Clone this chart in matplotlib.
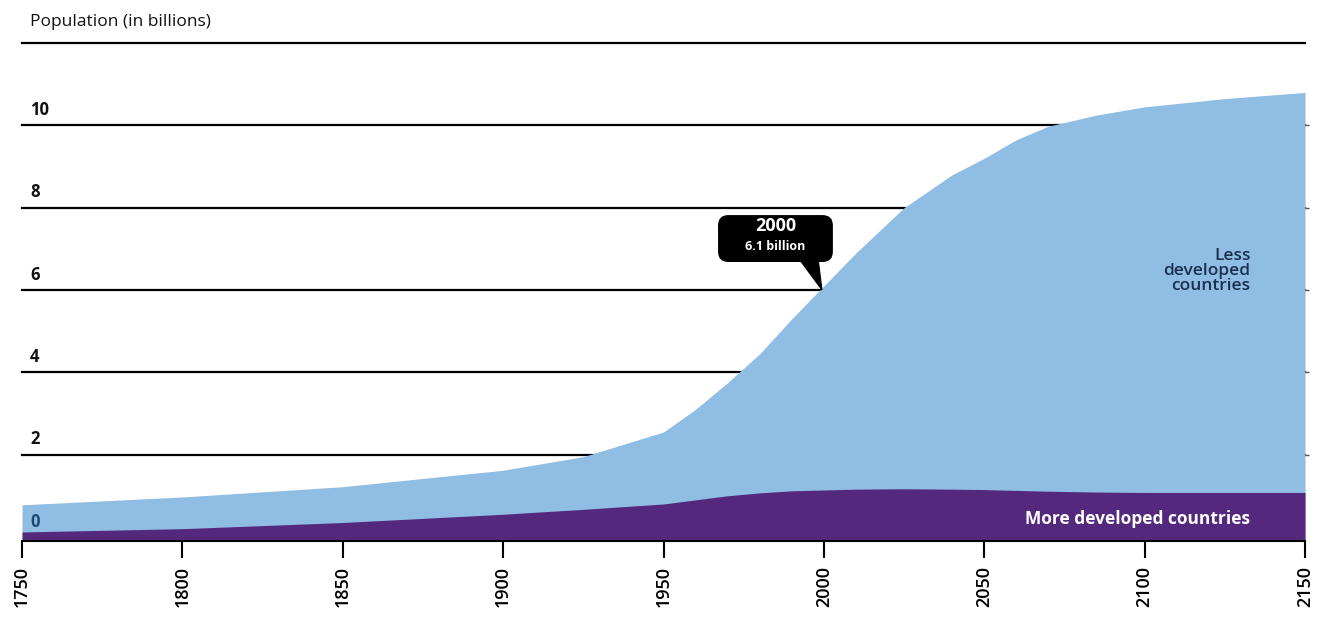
import matplotlib.pyplot as plt
from matplotlib.patches import FancyBboxPatch, Polygon

# Dane
years = [1750, 1800, 1850, 1900, 1925, 1950, 1960, 1970, 1980, 1990, 2000,
         2010, 2025, 2040, 2050, 2060, 2070, 2085, 2100, 2125, 2150]
total = [0.78, 0.97, 1.22, 1.62, 1.95, 2.55, 3.1, 3.75, 4.45, 5.3, 6.1,
         6.9, 8.0, 8.8, 9.2, 9.65, 9.98, 10.25, 10.45, 10.65, 10.8]
more_dev = [0.12, 0.2, 0.35, 0.55, 0.67, 0.8, 0.9, 1.0, 1.07, 1.12, 1.14,
            1.16, 1.17, 1.16, 1.15, 1.13, 1.11, 1.09, 1.08, 1.08, 1.08]
x_ticks = [1750, 1800, 1850, 1900, 1950, 2000, 2050, 2100, 2150]
y_grid = [2, 4, 6, 8, 10, 12]
y_labels = ["0", "2", "4", "6", "8", "10"]

LIGHT = "#8fbde3"
PURPLE = "#54287c"
FONT = ["Open Sans", "DejaVu Sans"]

fig = plt.figure(figsize=(13.19, 6.33), dpi=100)
ax = fig.add_axes([0.0167, 0.1453, 0.9727, 0.7867])
ax.set_xlim(1750, 2150)
ax.set_ylim(-0.1, 12)

# Linie siatki (pod obszarem)
for g in y_grid:
    ax.axhline(g, color="black", lw=1.6, zorder=1, clip_on=False)

ax.fill_between(years, -0.1, total, color=LIGHT, lw=0, zorder=2)
ax.fill_between(years, -0.1, more_dev, color=PURPLE, lw=0, zorder=3)

# Etykiety osi Y
for i, lab in enumerate(y_labels):
    val = i * 2
    col = "#1d4a78" if val == 0 else "#111111"
    ax.text(1752.5, val + 0.37, lab, fontsize=12, fontweight="bold",
            color=col, va="center", ha="left", family=FONT, zorder=5)

ax.text(1752.5, 12.5, "Population (in billions)", fontsize=12.5,
        color="#111111", va="center", ha="left", family=FONT)

# Dymek 2000
bx0, bx1, by0, by1 = 1967.0, 2002.8, 6.68, 7.82
box = FancyBboxPatch((bx0, by0), bx1 - bx0, by1 - by0,
                     boxstyle="round,pad=0,rounding_size=3.2",
                     mutation_aspect=0.078, fc="black", ec="black",
                     lw=0, zorder=6)
ax.add_patch(box)
ax.add_patch(Polygon([(1992.3, 6.75), (1998.2, 6.75), (1999.4, 6.0)],
                     closed=True, fc="black", ec="black", lw=0.8, zorder=6))
ax.text(1984.9, 7.55, "2000", fontsize=13, fontweight="bold", color="white",
        ha="center", va="center", family=FONT, zorder=7)
ax.text(1984.9, 7.05, "6.1 billion", fontsize=9, fontweight="bold",
        color="white", ha="center", va="center", family=FONT, zorder=7)

ax.text(2133, 6.45, "Less\ndeveloped\ncountries", fontsize=12.5,
        fontweight="semibold", color="#1a3050", ha="right", va="center",
        family=FONT, linespacing=0.92, zorder=5)
ax.text(2133, 0.43, "More developed countries", fontsize=12.5,
        fontweight="bold", color="white", ha="right", va="center",
        family=FONT, zorder=5)

for s in ["top", "left", "right"]:
    ax.spines[s].set_visible(False)
ax.spines["bottom"].set_color("black")
ax.spines["bottom"].set_linewidth(1.5)
ax.spines["bottom"].set_zorder(4)

ax.set_yticks([2, 4, 6, 8, 10])
ax.tick_params(axis="y", left=False, labelleft=False, right=True,
               direction="out", length=3, width=1, color="#555555")
ax.set_xticks(x_ticks)
ax.set_xticklabels([str(x) for x in x_ticks], rotation=90,
                   fontsize=13, fontweight="semibold", family=FONT)
ax.tick_params(axis="x", direction="out", length=12, width=1.5, pad=6)

fig.savefig("out.png", dpi=100)
